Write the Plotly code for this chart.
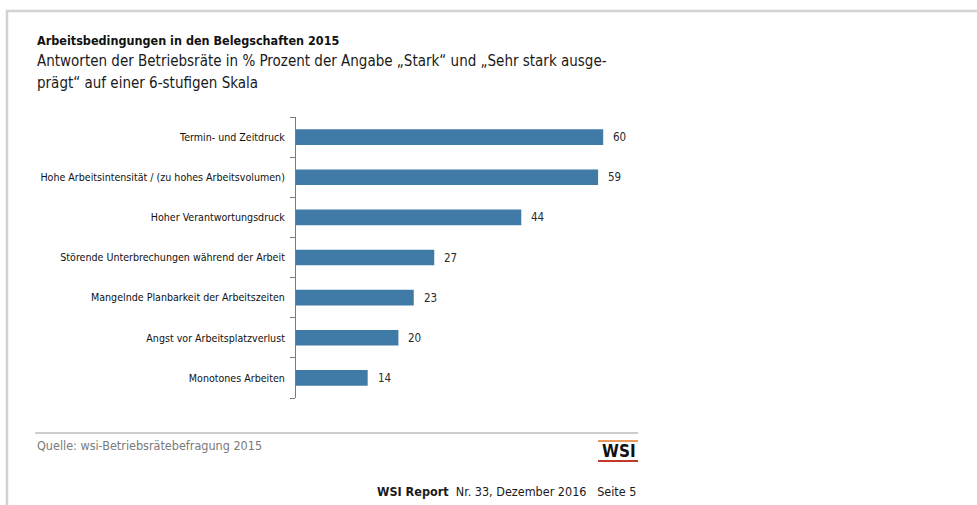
import plotly.graph_objects as go

categories = [
    "Termin- und Zeitdruck",
    "Hohe Arbeitsintensität / (zu hohes Arbeitsvolumen)",
    "Hoher Verantwortungsdruck",
    "Störende Unterbrechungen während der Arbeit",
    "Mangelnde Planbarkeit der Arbeitszeiten",
    "Angst vor Arbeitsplatzverlust",
    "Monotones Arbeiten",
]
values = [60, 59, 44, 27, 23, 20, 14]

title_text = "Arbeitsbedingungen in den Belegschaften 2015"
subtitle_1 = "Antworten der Betriebsräte in % Prozent der Angabe „Stark“ und „Sehr stark ausge-"
subtitle_2 = "prägt“ auf einer 6-stufigen Skala"
source_text = "Quelle: wsi-Betriebsrätebefragung 2015"
footer_text = "<b>WSI Report</b>  Nr. 33, Dezember 2016   Seite 5"

FONT = "DejaVu Sans Condensed, Liberation Sans Narrow, sans-serif"
BAR = "#407ba7"

W, H = 977, 505
L, R, T, B = 296, 100, 117, 107
PW, PH = W - L - R, H - T - B
XMAX = PW / 5.12
N = len(categories)
boundaries = [i - 0.5 for i in range(N + 1)]


def px(x):
    return (x - L) / PW


def py(y):
    return (H - B - y) / PH


fig = go.Figure()
fig.add_trace(go.Bar(
    x=values, y=categories, orientation="h",
    marker=dict(color=BAR, line=dict(width=0)),
    width=0.39, hoverinfo="skip",
))
# invisible trace so the boundary-tick axis is drawn
fig.add_trace(go.Scatter(
    x=[0, 0], y=[boundaries[0], boundaries[-1]], yaxis="y2", mode="lines",
    line=dict(width=0, color="rgba(0,0,0,0)"), hoverinfo="skip",
))

annotations = []
for c, v in zip(categories, values):
    annotations.append(dict(
        x=v, y=c, xref="x", yref="y", text=str(v), showarrow=False,
        xanchor="left", xshift=8, font=dict(family=FONT, size=11.5, color="#2a2a2a"),
    ))

annotations += [
    dict(x=px(35), y=py(40), xref="paper", yref="paper", xanchor="left", yanchor="middle",
         text="<b>" + title_text + "</b>", showarrow=False,
         font=dict(family=FONT, size=12.5, color="#111111")),
    dict(x=px(35), y=py(61), xref="paper", yref="paper", xanchor="left", yanchor="middle",
         text=subtitle_1, showarrow=False,
         font=dict(family=FONT, size=15, color="#1a1a1a")),
    dict(x=px(35), y=py(83), xref="paper", yref="paper", xanchor="left", yanchor="middle",
         text=subtitle_2, showarrow=False,
         font=dict(family=FONT, size=15, color="#1a1a1a")),
    dict(x=px(35), y=py(446), xref="paper", yref="paper", xanchor="left", yanchor="middle",
         text=source_text, showarrow=False,
         font=dict(family=FONT, size=12.5, color="#7a7a7a")),
    dict(x=px(638), y=py(451), xref="paper", yref="paper", xanchor="right", yanchor="middle",
         text="<b>WSI</b>", showarrow=False,
         font=dict(family=FONT, size=17, color="#111111")),
    dict(x=px(638), y=py(491), xref="paper", yref="paper", xanchor="right", yanchor="middle",
         text=footer_text, showarrow=False,
         font=dict(family=FONT, size=12.5, color="#1a1a1a")),
]

shapes = [
    dict(type="line", xref="paper", yref="paper", x0=px(6), x1=px(977), y0=py(11), y1=py(11),
         line=dict(color="#d2d2d2", width=2.5)),
    dict(type="line", xref="paper", yref="paper", x0=px(7), x1=px(7), y0=py(10), y1=py(505),
         line=dict(color="#d2d2d2", width=2.5)),
    dict(type="line", xref="paper", yref="paper", x0=px(35), x1=px(638), y0=py(433), y1=py(433),
         line=dict(color="#9a9a9a", width=1)),
    dict(type="line", xref="paper", yref="paper", x0=px(598), x1=px(638), y0=py(441), y1=py(441),
         line=dict(color="#e89a5a", width=2)),
    dict(type="line", xref="paper", yref="paper", x0=px(598), x1=px(638), y0=py(461), y1=py(461),
         line=dict(color="#c0392b", width=2)),
]

fig.update_layout(
    width=W, height=H,
    margin=dict(l=L, r=R, t=T, b=B),
    paper_bgcolor="white", plot_bgcolor="white",
    showlegend=False,
    annotations=annotations, shapes=shapes,
    xaxis=dict(range=[0, XMAX], visible=False, fixedrange=True),
    yaxis=dict(
        type="category", autorange=False, range=[N - 0.5, -0.5],
        categoryorder="array", categoryarray=categories,
        showline=True, linecolor="#7a7a7a", linewidth=1,
        ticks="", showgrid=False, zeroline=False,
        tickfont=dict(family=FONT, size=10.6, color="#111111"),
        ticklabelstandoff=8, fixedrange=True,
    ),
    yaxis2=dict(
        overlaying="y", side="left", anchor="x", type="linear",
        autorange=False, range=[N - 0.5, -0.5],
        tickmode="array", tickvals=boundaries, showticklabels=False,
        ticks="outside", ticklen=5, tickwidth=1, tickcolor="#7a7a7a",
        showline=False, showgrid=False, zeroline=False, fixedrange=True,
    ),
)

fig.write_html("out.html")
